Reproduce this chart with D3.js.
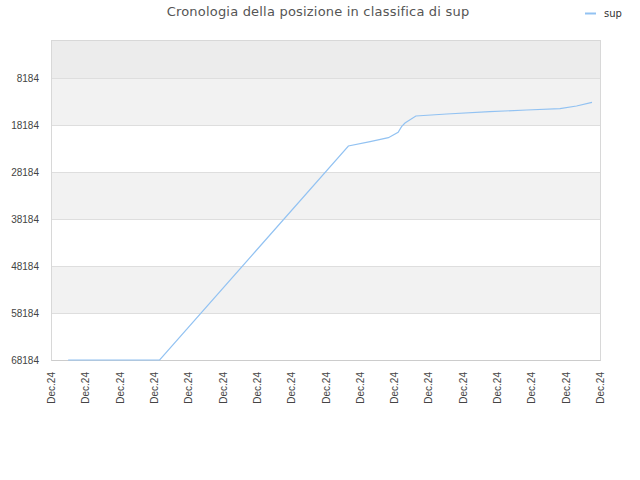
<!DOCTYPE html>
<html>
<head>
<meta charset="utf-8">
<script src="https://cdn.jsdelivr.net/npm/d3@7"></script>
<style>
  body { margin: 0; background: #fff; }
  svg { font-family: "DejaVu Sans", sans-serif; }
</style>
</head>
<body>
<div id="chart"></div>
<script>
// time position (hours into the span) and rank
var seriesX = [3, 19, 52, 55.8, 59, 60.7, 61.3, 61.9, 63.8, 69.2, 76.7, 83.2, 89, 91.9, 94.6];
var seriesRank = [68184, 68184, 22652, 21737, 20886, 19737, 18546, 17758, 16269, 15844, 15354, 14993, 14716, 14141, 13354];
var yTicks = [8184, 18184, 28184, 38184, 48184, 58184, 68184];
var xTicks = d3.range(0, 97, 6);
var xTickLabel = "Dec.24";
var seriesName = "sup";
var title = "Cronologia della posizione in classifica di sup";

var width = 640, height = 480;
var margin = { top: 40, right: 40, bottom: 120, left: 51 };
var innerW = 600 - margin.left, innerH = 360 - margin.top;

var svg = d3.select("#chart").append("svg")
    .attr("width", width)
    .attr("height", height);

var x = d3.scaleLinear().domain([0, 96]).range([0, innerW]);
var y = d3.scaleLinear().domain([68184, 100]).range([innerH, 0]);

var g = svg.append("g").attr("transform", `translate(${margin.left},${margin.top})`);

// shaded bands
var bands = [[100, 8184]];
for (var i = 0; i < yTicks.length - 1; i++) bands.push([yTicks[i], yTicks[i + 1]]);
g.selectAll(".band")
    .data(bands)
    .enter().append("rect")
    .attr("x", 0)
    .attr("width", innerW)
    .attr("y", d => y(d[0]))
    .attr("height", d => y(d[1]) - y(d[0]))
    .style("fill", (d, i) => i === 0 ? "#ececec" : (i % 2 === 1 ? "#f2f2f2" : "#ffffff"));

// grid lines
g.selectAll(".grid")
    .data(yTicks)
    .enter().append("line")
    .attr("x1", 0).attr("x2", innerW)
    .attr("y1", d => Math.round(y(d)) + 0.5).attr("y2", d => Math.round(y(d)) + 0.5)
    .style("stroke", "#dedede");

// frame
g.append("rect")
    .attr("x", 0.5).attr("y", 0.5)
    .attr("width", innerW).attr("height", innerH)
    .style("fill", "none")
    .style("stroke", "#d8d8d8");

// y axis
var yAxis = g.append("g")
    .call(d3.axisLeft(y).tickValues(yTicks).tickSize(0).tickPadding(12).tickFormat(d3.format("d")));
yAxis.select(".domain").remove();
yAxis.selectAll("text").style("font-size", "10px").style("fill", "#444");

// x axis
var xAxis = g.append("g")
    .attr("transform", `translate(0,${innerH})`)
    .call(d3.axisBottom(x).tickValues(xTicks).tickSize(0).tickFormat(() => xTickLabel));
xAxis.select(".domain").style("stroke", "#ccc");
xAxis.selectAll("text")
    .style("font-size", "10px")
    .style("fill", "#444")
    .attr("text-anchor", "end")
    .attr("transform", "rotate(-90)")
    .attr("x", -12)
    .attr("y", 0)
    .attr("dy", "0.35em");

// line
var line = d3.line()
    .x((d, i) => x(seriesX[i]))
    .y(d => y(d));

g.append("path")
    .datum(seriesRank)
    .attr("d", line)
    .style("fill", "none")
    .style("stroke", "#92c2f2")
    .style("stroke-width", 1.2);

// title
svg.append("text")
    .attr("x", 318)
    .attr("y", 16)
    .attr("text-anchor", "middle")
    .style("font-size", "13px")
    .style("letter-spacing", "0.2px")
    .style("fill", "#555")
    .text(title);

// legend
svg.append("line")
    .attr("x1", 585).attr("x2", 596)
    .attr("y1", 13.5).attr("y2", 13.5)
    .style("stroke", "#92c2f2")
    .style("stroke-width", 2);
svg.append("text")
    .attr("x", 604)
    .attr("y", 17)
    .style("font-size", "10px")
    .style("fill", "#333")
    .text(seriesName);
</script>
</body>
</html>
